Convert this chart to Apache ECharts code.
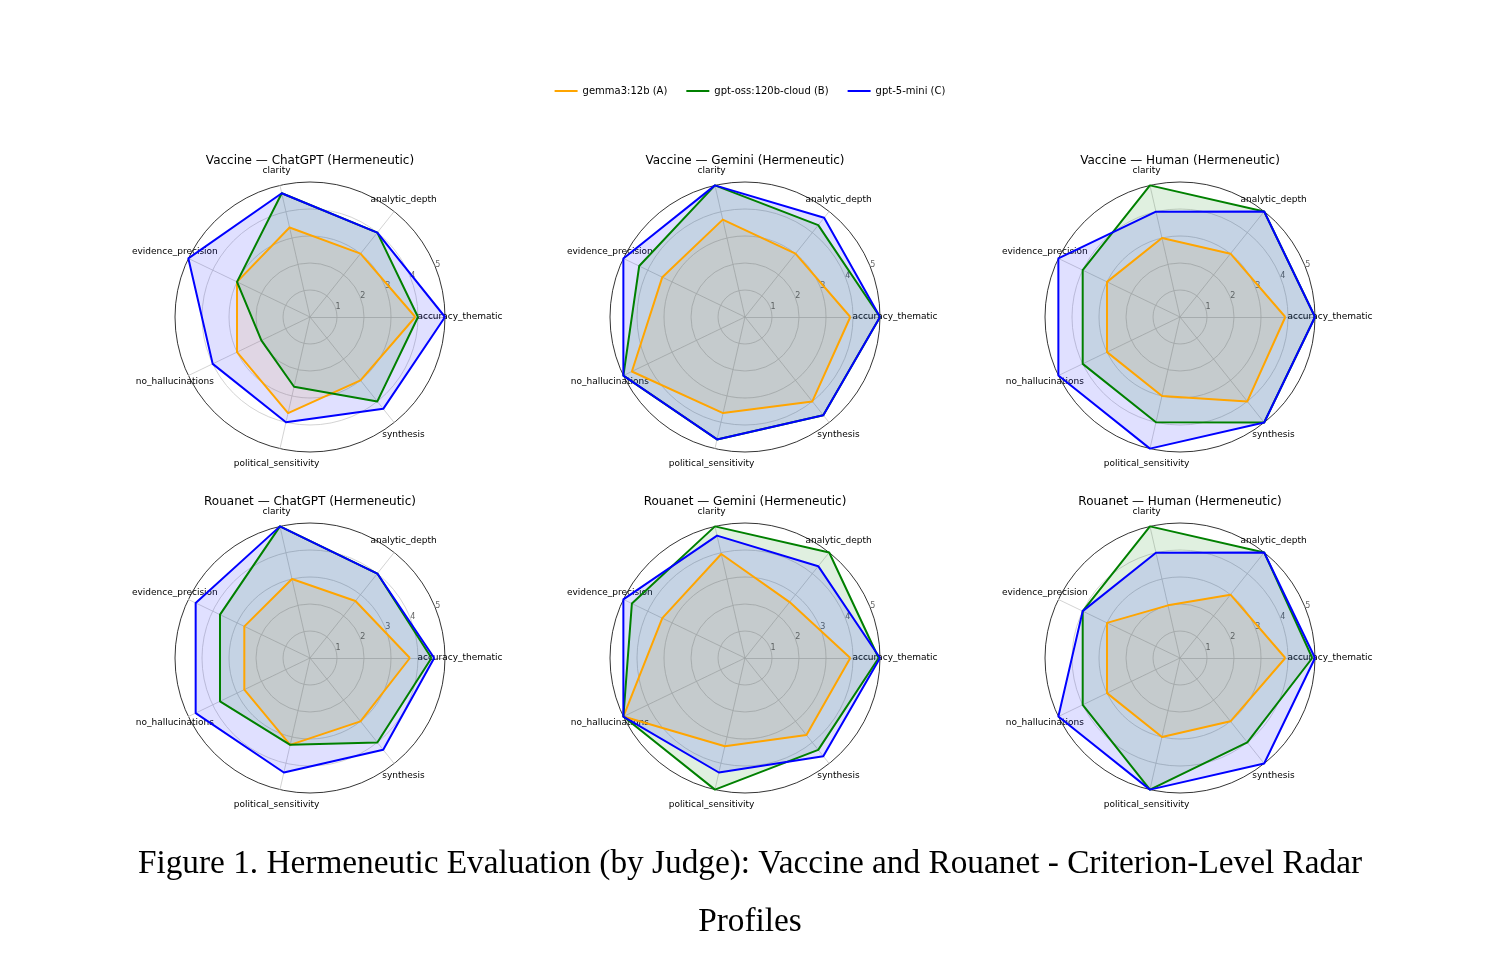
<!DOCTYPE html>
<html>
<head>
<meta charset="utf-8">
<title>Hermeneutic Evaluation radar</title>
<script src="https://cdn.jsdelivr.net/npm/echarts@6/dist/echarts.min.js"></script>
<style>
  html, body { margin: 0; padding: 0; background: #fff; }
  #main { width: 1500px; height: 980px; }
</style>
</head>
<body>
<div id="main"></div>
<script>
// 指标（雷达的各条轴，从右侧开始逆时针）
var criteria = [
  "accuracy_thematic",
  "analytic_depth",
  "clarity",
  "evidence_precision",
  "no_hallucinations",
  "political_sensitivity",
  "synthesis"
];
var models = ["gemma3:12b (A)", "gpt-oss:120b-cloud (B)", "gpt-5-mini (C)"];
var modelColors = ["#FFA500", "#008000", "#0000FF"];
var radialTicks = [1, 2, 3, 4, 5];

var panelTitles = [
  "Vaccine — ChatGPT (Hermeneutic)",
  "Vaccine — Gemini (Hermeneutic)",
  "Vaccine — Human (Hermeneutic)",
  "Rouanet — ChatGPT (Hermeneutic)",
  "Rouanet — Gemini (Hermeneutic)",
  "Rouanet — Human (Hermeneutic)"
];

// 每个面板：A / B / C 三个模型的分数
var vaccineChatGPT = [
  [3.9, 3.0, 3.4, 3.0, 3.0, 3.65, 3.0],
  [4.0, 4.0, 4.7, 3.0, 2.0, 2.65, 4.0],
  [5.0, 4.0, 4.7, 5.0, 4.0, 4.0, 4.35]
];
var vaccineGemini = [
  [3.9, 3.0, 3.7, 3.4, 4.65, 3.65, 4.0],
  [5.0, 4.35, 5.0, 4.35, 5.0, 4.65, 4.65],
  [5.0, 4.7, 5.0, 5.0, 5.0, 4.65, 4.65]
];
var vaccineHuman = [
  [3.9, 3.0, 3.0, 3.0, 3.0, 3.0, 4.0],
  [5.0, 5.0, 5.0, 4.0, 4.0, 4.0, 5.0],
  [5.0, 5.0, 4.0, 5.0, 5.0, 5.0, 5.0]
];
var rouanetChatGPT = [
  [3.7, 2.7, 3.0, 2.7, 2.7, 3.3, 3.0],
  [4.5, 4.0, 5.0, 3.7, 3.7, 3.3, 4.0],
  [4.6, 4.0, 5.0, 4.7, 4.7, 4.35, 4.35]
];
var rouanetGemini = [
  [3.9, 2.65, 3.95, 3.4, 5.0, 3.35, 3.65],
  [4.95, 5.0, 5.0, 4.65, 5.0, 5.0, 4.35],
  [5.0, 4.35, 4.65, 5.0, 5.0, 4.35, 4.65]
];
var rouanetHuman = [
  [3.9, 3.0, 2.0, 3.0, 3.0, 3.0, 3.0],
  [4.9, 5.0, 5.0, 4.0, 4.0, 5.0, 4.0],
  [5.0, 5.0, 4.0, 4.0, 5.0, 5.0, 5.0]
];

var panels = [vaccineChatGPT, vaccineGemini, vaccineHuman, rouanetChatGPT, rouanetGemini, rouanetHuman];

;(function () {
  var myChart = echarts.init(document.getElementById("main"));

  var colX = [310, 745, 1180];
  var rowY = [317, 658];
  var R = 135;
  var font = "DejaVu Sans";

  var titles = [];
  var radars = [];
  var polars = [];
  var angleAxes = [];
  var radiusAxes = [];
  var series = [];

  panels.forEach(function (panel, i) {
    var cx = colX[i % 3];
    var cy = rowY[Math.floor(i / 3)];

    titles.push({
      text: panelTitles[i],
      left: cx,
      top: cy - 162,
      padding: 0,
      textAlign: "center",
      textStyle: { fontFamily: font, fontSize: 12, fontWeight: "normal", color: "#000" }
    });

    radars.push({
      center: [cx, cy],
      radius: R,
      startAngle: 0,
      shape: "circle",
      splitNumber: 5,
      indicator: criteria.map(function (c) { return { name: c, min: 0, max: 5 }; }),
      axisName: {
        color: "#000",
        fontFamily: font,
        fontSize: 9,
        align: "center",
        verticalAlign: "middle"
      },
      axisNameGap: 15,
      splitArea: { show: false },
      splitLine: {
        lineStyle: {
          color: ["#c8c8c8", "#c8c8c8", "#c8c8c8", "#c8c8c8", "#c8c8c8", "#000"],
          width: 0.8
        }
      },
      axisLine: { lineStyle: { color: "#c8c8c8", width: 0.8 } }
    });

    // 径向刻度标签放在 22.5° 方向（仿 matplotlib）
    polars.push({ center: [cx, cy], radius: R });
    angleAxes.push({ polarIndex: i, type: "value", startAngle: 22.5, min: 0, max: 360, show: false });
    radiusAxes.push({
      polarIndex: i,
      type: "value",
      min: 0,
      max: 5,
      interval: 1,
      axisLine: { show: false },
      axisTick: { show: false },
      splitLine: { show: false },
      axisLabel: {
        color: "#666",
        fontFamily: font,
        fontSize: 8,
        margin: 0,
        align: "center",
        verticalAlign: "middle",
        padding: [0, 0, 12, 6],
        formatter: function (v) { return radialTicks.indexOf(v) >= 0 ? String(v) : ""; }
      }
    });

    // 先画填充（在下层），再画线（在上层），和 matplotlib 的层级一致
    series.push({
      type: "radar",
      radarIndex: i,
      symbol: "none",
      z: 2,
      data: panel.map(function (vals, k) {
        return {
          name: models[k],
          value: vals,
          itemStyle: { color: modelColors[k] },
          lineStyle: { color: modelColors[k], width: 0, opacity: 0 },
          areaStyle: { color: modelColors[k], opacity: 0.12 }
        };
      })
    });
    series.push({
      type: "radar",
      radarIndex: i,
      symbol: "none",
      z: 3,
      data: panel.map(function (vals, k) {
        return {
          name: models[k],
          value: vals,
          itemStyle: { color: modelColors[k] },
          lineStyle: { color: modelColors[k], width: 2 }
        };
      })
    });
  });

  // 图注
  titles.push({
    text: "Figure 1. Hermeneutic Evaluation (by Judge): Vaccine and Rouanet - Criterion-Level Radar\nProfiles",
    left: 750,
    top: 835,
    textAlign: "center",
    padding: 0,
    textStyle: {
      fontFamily: "Liberation Serif",
      fontSize: 33.3,
      lineHeight: 58,
      fontWeight: "normal",
      color: "#000"
    }
  });

  var option = {
    animation: false,
    color: modelColors,
    title: titles,
    legend: {
      data: models,
      top: 81,
      left: "center",
      icon: "rect",
      itemWidth: 23,
      itemHeight: 2,
      itemGap: 19,
      textStyle: { fontFamily: font, fontSize: 10, color: "#000" }
    },
    radar: radars,
    polar: polars,
    angleAxis: angleAxes,
    radiusAxis: radiusAxes,
    series: series
  };

  myChart.setOption(option);
  window.addEventListener("resize", function () {
    myChart.resize();
  });
})();
</script>
</body>
</html>
